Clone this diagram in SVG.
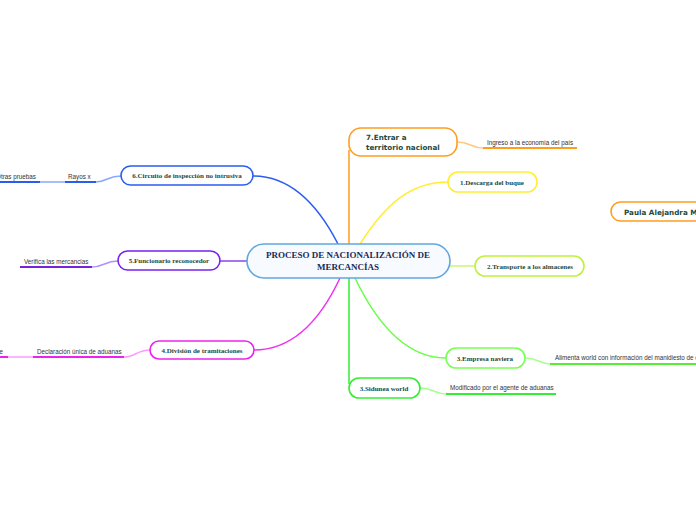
<svg xmlns="http://www.w3.org/2000/svg" width="696" height="520" viewBox="0 0 696 520">
<style>
.node{fill:#ffffff;stroke-width:1.6}
.nt{font-family:"Liberation Serif",serif;font-weight:bold;font-size:7px;fill:#1e4a3c;text-anchor:middle}
.st{font-family:"Liberation Sans",Arial,sans-serif;font-size:6.3px;fill:#333333}
.bt{font-family:"DejaVu Sans",sans-serif;font-weight:bold;font-size:7.2px;fill:#1e4a3c}
.c{fill:none;stroke-width:1.5}
.u{fill:none;stroke-width:2}
</style>
<rect width="696" height="520" fill="#ffffff"/>
<g id="connectors">
<path class="c" stroke="#ff9d1f" d="M349,244 V150"/>
<path class="c" stroke="#ffc880" d="M457,142 C470,142 472,148 483,148"/>
<path class="u" stroke="#ff9d1f" d="M483,148 H577"/>
<path class="c" stroke="#ffee33" d="M360,244 C385,205 410,182 448,182"/>
<path class="c" stroke="#ccf577" d="M450,266 H475"/>
<path class="c" stroke="#66ff44" d="M355,278 C380,330 410,358 446,358"/>
<path class="c" stroke="#a8ff90" d="M525,358 C538,358 540,364 550,364"/>
<path class="u" stroke="#55ee33" d="M550,364 H696"/>
<path class="c" stroke="#33ee33" d="M349,278 V384"/>
<path class="c" stroke="#a8ff90" d="M420,388 C433,388 435,394 446,394"/>
<path class="u" stroke="#33ee33" d="M446,394 H556"/>
<path class="c" stroke="#2a5cf0" d="M253,176 C290,176 318,205 338,244"/>
<path class="c" stroke="#88a8ff" d="M121,176 C108,176 106,182 96,182"/>
<path class="u" stroke="#2a5cf0" d="M65,182 H96"/>
<path class="c" stroke="#88a8ff" d="M65,182 H40"/>
<path class="u" stroke="#2a5cf0" d="M0,182 H40"/>
<path class="c" stroke="#8844ee" d="M220,261 H247"/>
<path class="c" stroke="#b090ff" d="M118,261 C105,261 103,267 92,267"/>
<path class="u" stroke="#7722dd" d="M20,267 H92"/>
<path class="c" stroke="#ee33ee" d="M340,278 C318,325 290,350 254,350"/>
<path class="c" stroke="#ff99ff" d="M150,350 C137,350 135,357 124,357"/>
<path class="u" stroke="#ee22ee" d="M33,357 H124"/>
<path class="c" stroke="#ff99ff" d="M33,357 H8"/>
<path class="u" stroke="#ee22ee" d="M0,357 H8"/>
</g>
<g id="central">
<rect x="247" y="244" width="203" height="34" rx="17" fill="#f7fbff" stroke="#5ea8dc" stroke-width="1.6"/>
<text x="348" y="258" font-family="Liberation Serif,serif" font-weight="bold" font-size="9px" fill="#1c2a55" text-anchor="middle">PROCESO DE NACIONALIZACIÓN DE</text>
<text x="348" y="270" font-family="Liberation Serif,serif" font-weight="bold" font-size="9px" fill="#1c2a55" text-anchor="middle">MERCANCÍAS</text>
</g>
<g id="n7">
<rect class="node" x="349" y="128" width="108" height="28" rx="12" stroke="#ff9d1f"/>
<text class="bt" x="366" y="140">7.Entrar a</text>
<text class="bt" x="366" y="150">territorio nacional</text>
<text class="st" x="487" y="145">Ingreso a la economía del país</text>
</g>
<g id="n1">
<rect class="node" x="448" y="172" width="89" height="20" rx="10" stroke="#ffee33"/>
<text class="nt" x="492" y="184.5">1.Descarga del buque</text>
</g>
<g id="n2">
<rect class="node" x="475" y="256" width="109" height="20" rx="10" stroke="#bff23a"/>
<text class="nt" x="530" y="268.5">2.Transporte a los almacenes</text>
</g>
<g id="n3a">
<rect class="node" x="446" y="348" width="79" height="20" rx="10" stroke="#77ff55"/>
<text class="nt" x="485" y="360.5">3.Empresa naviera</text>
<text class="st" x="555" y="360">Alimenta world con información del manidiesto de carga</text>
</g>
<g id="n3b">
<rect class="node" x="349" y="378" width="71" height="20" rx="10" stroke="#33ee33"/>
<text class="nt" x="384" y="390.5">3.Sidunea world</text>
<text class="st" x="450" y="390">Modificado por el agente de aduanas</text>
</g>
<g id="paula">
<rect class="node" x="611" y="202" width="100" height="19" rx="9.5" stroke="#ff9d1f"/>
<text class="bt" x="624" y="214.5">Paula Alejandra Martínez</text>
</g>
<g id="n6">
<rect class="node" x="121" y="166" width="132" height="19" rx="9.5" stroke="#2a5cf0"/>
<text class="nt" x="187" y="178">6.Circuito de inspección no intrusiva</text>
<text class="st" x="68" y="179">Rayos x</text>
<text class="st" x="-4" y="179">Otras pruebas</text>
</g>
<g id="n5">
<rect class="node" x="118" y="251" width="102" height="19" rx="9.5" stroke="#7722ee"/>
<text class="nt" x="169" y="263">5.Funcionario reconocedor</text>
<text class="st" x="24" y="264">Verifica las mercancias</text>
</g>
<g id="n4">
<rect class="node" x="150" y="341" width="104" height="18" rx="9" stroke="#ee22ee"/>
<text class="nt" x="202" y="353">4.División de tramitaciones</text>
<text class="st" x="37" y="354">Declaración única de aduanas</text>
<text class="st" x="-0.5" y="354">e</text>
</g>
</svg>
